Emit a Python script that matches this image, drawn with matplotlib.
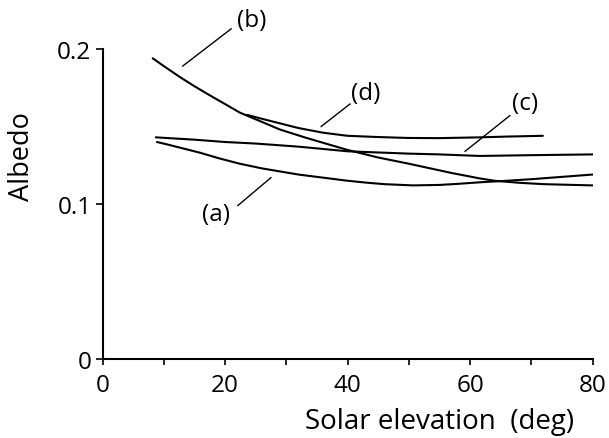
import matplotlib
matplotlib.use("Agg")
import matplotlib.pyplot as plt

plt.rcParams['font.family'] = ['Open Sans', 'DejaVu Sans']

# Curve data (solar elevation in degrees, albedo)
a_x = [8.9, 10.5, 12, 14, 16, 19, 22.4, 26, 29, 32, 36, 40, 43, 46, 50.7, 55, 58, 61.6, 66, 70, 75, 80]
a_y = [0.140, 0.1385, 0.137, 0.135, 0.133, 0.1295, 0.126, 0.123, 0.121, 0.119, 0.117, 0.115, 0.1138, 0.1128, 0.112, 0.1123, 0.113, 0.114, 0.115, 0.116, 0.1175, 0.119]

b_x = [8.2, 10, 12.6, 15, 18, 20, 22.4, 26, 29, 33, 36, 39.9, 45, 50, 53.5, 57, 61.6, 64, 68, 72, 76, 80]
b_y = [0.194, 0.189, 0.182, 0.176, 0.169, 0.1645, 0.159, 0.153, 0.148, 0.143, 0.1395, 0.135, 0.130, 0.126, 0.123, 0.120, 0.1165, 0.115, 0.1137, 0.1128, 0.1124, 0.112]

c_x = [8.7, 15, 20, 25, 32, 40, 50, 55, 61.6, 70, 80]
c_y = [0.143, 0.1415, 0.140, 0.139, 0.137, 0.134, 0.1325, 0.132, 0.131, 0.1315, 0.132]

d_x = [23.6, 26, 29, 32, 36, 40, 45, 50, 55, 61.6, 66, 71.9]
d_y = [0.1575, 0.155, 0.152, 0.149, 0.146, 0.144, 0.1432, 0.1426, 0.1425, 0.143, 0.1435, 0.144]

labels = ['(a)', '(b)', '(c)', '(d)']
x_ticks = [0, 20, 40, 60, 80]
y_ticks = [0, 0.1, 0.2]
y_ticklabels = ['0', '0.1', '0.2']

fig = plt.figure(figsize=(6.09, 4.39), dpi=100)
ax = fig.add_axes([102.5 / 609, 1 - 360 / 439, 490 / 609, 310 / 439])

lw = 1.5
for xs, ys in [(a_x, a_y), (b_x, b_y), (c_x, c_y), (d_x, d_y)]:
    ax.plot(xs, ys, color='black', lw=lw, solid_capstyle='round', solid_joinstyle='round')

# Leader-line labels: (text position, line start on curve, line end near text)
ann = {
    '(a)': ((18.5, 0.0935), (27.5, 0.117), (22.1, 0.099)),
    '(b)': ((24.3, 0.2185), (13.1, 0.189), (21.0, 0.213)),
    '(c)': ((69.0, 0.165), (59.2, 0.134), (66.5, 0.157)),
    '(d)': ((43.0, 0.1715), (35.7, 0.150), (40.4, 0.1645)),
}
for lab in labels:
    tpos, p0, p1 = ann[lab]
    ax.plot([p0[0], p1[0]], [p0[1], p1[1]], color='black', lw=1.0, clip_on=False)
    ax.text(tpos[0], tpos[1], lab, ha='center', va='center', fontsize=17.5, clip_on=False)

ax.set_xlim(0, 80)
ax.set_ylim(0, 0.2)
ax.set_xticks(x_ticks)
ax.set_xticks([10, 30, 50, 70], minor=True)
ax.set_yticks(y_ticks)
ax.set_yticklabels(y_ticklabels)
ax.spines['top'].set_visible(False)
ax.spines['right'].set_visible(False)
ax.spines['left'].set_linewidth(1.5)
ax.spines['bottom'].set_linewidth(1.5)
ax.tick_params(axis='x', which='major', direction='out', length=4, width=1.2, pad=6, labelsize=17.5)
ax.tick_params(axis='x', which='minor', direction='out', length=4, width=1.2)
ax.tick_params(axis='y', which='major', direction='out', length=5, width=1.2, pad=3, labelsize=17.5)

fig.text(22 / 609, 1 - 157 / 439, 'Albedo', rotation=90, ha='center', va='center', fontsize=19.5)
fig.text(440 / 609, 1 - 422 / 439, 'Solar elevation  (deg)', ha='center', va='center', fontsize=20)

fig.savefig('out.png', dpi=100)
